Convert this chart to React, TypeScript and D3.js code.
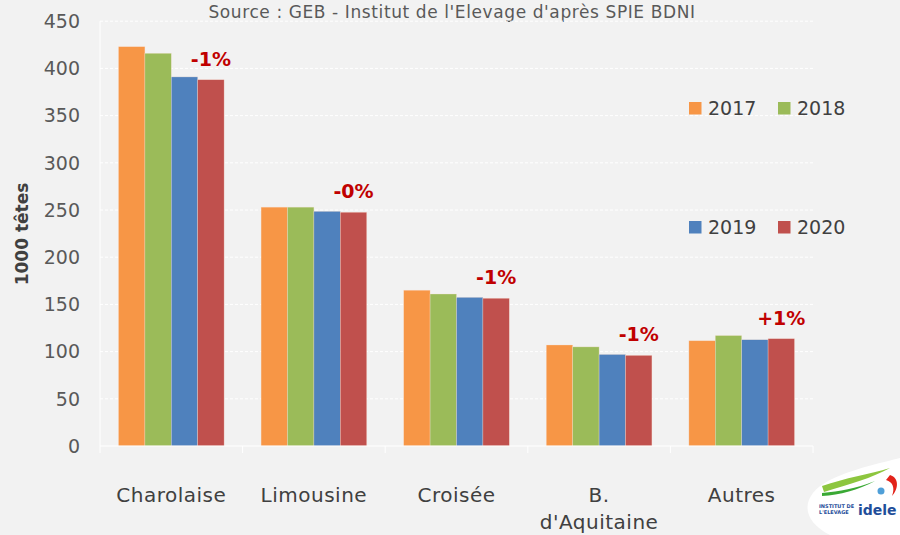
import React from "react";
import * as d3 from "d3";

const categories = ["Charolaise", "Limousine", "Croisée", "B.\nd'Aquitaine", "Autres"];
const years = ["2017", "2018", "2019", "2020"];
const values2017 = [423, 253, 165, 107, 111.5];
const values2018 = [416, 253, 161, 105, 117];
const values2019 = [391, 248.6, 157.5, 97, 112.6];
const values2020 = [388, 247.6, 156.5, 96, 113.7];
const changeLabels = ["-1%", "-0%", "-1%", "-1%", "+1%"];
const yTicks = [0, 50, 100, 150, 200, 250, 300, 350, 400, 450];
const colors = ["#F79646", "#9BBB59", "#4F81BD", "#C0504D"];

const W = 900, H = 535;
const left = 100, right = 813, top = 21.2, bottom = 446;
const FONT = "'DejaVu Sans', sans-serif";

export default function App() {
  const series = [values2017, values2018, values2019, values2020];
  const x = d3.scaleBand<string>().domain(categories).range([left, right]).paddingInner(0).paddingOuter(0);
  const x1 = d3.scaleBand<string>().domain(years).range([0, x.bandwidth()]).paddingOuter(0.7).paddingInner(0);
  const y = d3.scaleLinear().domain([0, 450]).range([bottom, top]);

  return (
    <svg width={W} height={H} style={{ position: "absolute", left: 0, top: 0, background: "#F2F2F2" }}>
      <rect x={0} y={0} width={W} height={H} fill="#F2F2F2" />
      <text x={452} y={18} textAnchor="middle" fontFamily={FONT} fontSize={17} fill="#595959" letterSpacing={0.6}>
        Source : GEB - Institut de l'Elevage d'après SPIE BDNI
      </text>
      {yTicks.filter(t => t > 0).map(t => (
        <line key={t} x1={left} x2={right} y1={y(t)} y2={y(t)} stroke="#FFFFFF" strokeWidth={1} strokeDasharray="3,2" />
      ))}
      <line x1={left} x2={left} y1={top} y2={bottom} stroke="#FFFFFF" strokeWidth={1} />
      {yTicks.map(t => (
        <text key={t} x={80} y={y(t)} dy="0.36em" textAnchor="end" fontFamily={FONT} fontSize={19} fill="#595959">{t}</text>
      ))}
      <text transform={`translate(28,${234}) rotate(-90)`} textAnchor="middle" fontFamily={FONT} fontWeight="bold" fontSize={17} fill="#404040">1000 têtes</text>
      {categories.map((c, i) => (
        <g key={c}>
          {series.map((s, j) => (
            <rect key={j} x={(x(c) as number) + (x1(years[j]) as number)} y={y(s[i])} width={x1.bandwidth()} height={bottom - y(s[i])}
              fill={colors[j]} stroke="#FBE4D5" strokeOpacity={0.5} strokeWidth={0.6} />
          ))}
          <text x={(x(c) as number) + (x1("2020") as number) + x1.bandwidth() / 2} y={y(values2020[i]) - 14}
            textAnchor="middle" fontFamily={FONT} fontWeight="bold" fontSize={19} fill="#C00000">{changeLabels[i]}</text>
        </g>
      ))}
      <line x1={left} x2={right} y1={bottom} y2={bottom} stroke="#FFFFFF" strokeWidth={1.2} />
      {d3.range(categories.length + 1).map(k => {
        const xx = left + k * x.step();
        return <line key={k} x1={xx} x2={xx} y1={bottom} y2={bottom + 7} stroke="#FFFFFF" strokeWidth={1} />;
      })}
      {categories.map(c => {
        const cx = (x(c) as number) + x.bandwidth() / 2;
        const lines = c.split("\n");
        return (
          <text key={c} x={cx} y={502} textAnchor="middle" fontFamily={FONT} fontSize={20} fill="#404040" letterSpacing={0.5}>
            {lines.map((l, k) => <tspan key={k} x={cx} dy={k === 0 ? 0 : 27}>{l}</tspan>)}
          </text>
        );
      })}
      {years.map((yr, j) => {
        const lx = j % 2 === 0 ? 689 : 778;
        const ly = j < 2 ? 102 : 221;
        return (
          <g key={yr}>
            <rect x={lx} y={ly} width={12.5} height={12.5} fill={colors[j]} />
            <text x={lx + 19} y={ly + 13} fontFamily={FONT} fontSize={19} fill="#404040">{yr}</text>
          </g>
        );
      })}
      <g>
        <path d="M830,535 C800,520 800,495 830,480 C855,468 885,462 900,458 L900,535 Z" fill="#FFFFFF" />
        <path d="M822,486 C845,478 870,474 890,468 C872,478 850,484 824,492 Z" fill="#8DC63F" />
        <path d="M822,493 C840,491 855,489 875,481 C858,490 840,495 822,496 Z" fill="#3AA935" />
        <path d="M890,475 C900,478 898,490 892,496 C895,488 893,482 886,480 Z" fill="#E2231A" />
        <circle cx={881} cy={491} r={3.5} fill="#4F9FD8" />
        <text x={819} y={508} fontFamily={FONT} fontWeight="bold" fontSize={5} fill="#1F4E9A">INSTITUT DE</text>
        <text x={819} y={514} fontFamily={FONT} fontWeight="bold" fontSize={5} fill="#1F4E9A">L'ELEVAGE</text>
        <text x={858} y={515} fontFamily={FONT} fontWeight="bold" fontSize={14} fill="#1F4E9A">idele</text>
      </g>
    </svg>
  );
}
